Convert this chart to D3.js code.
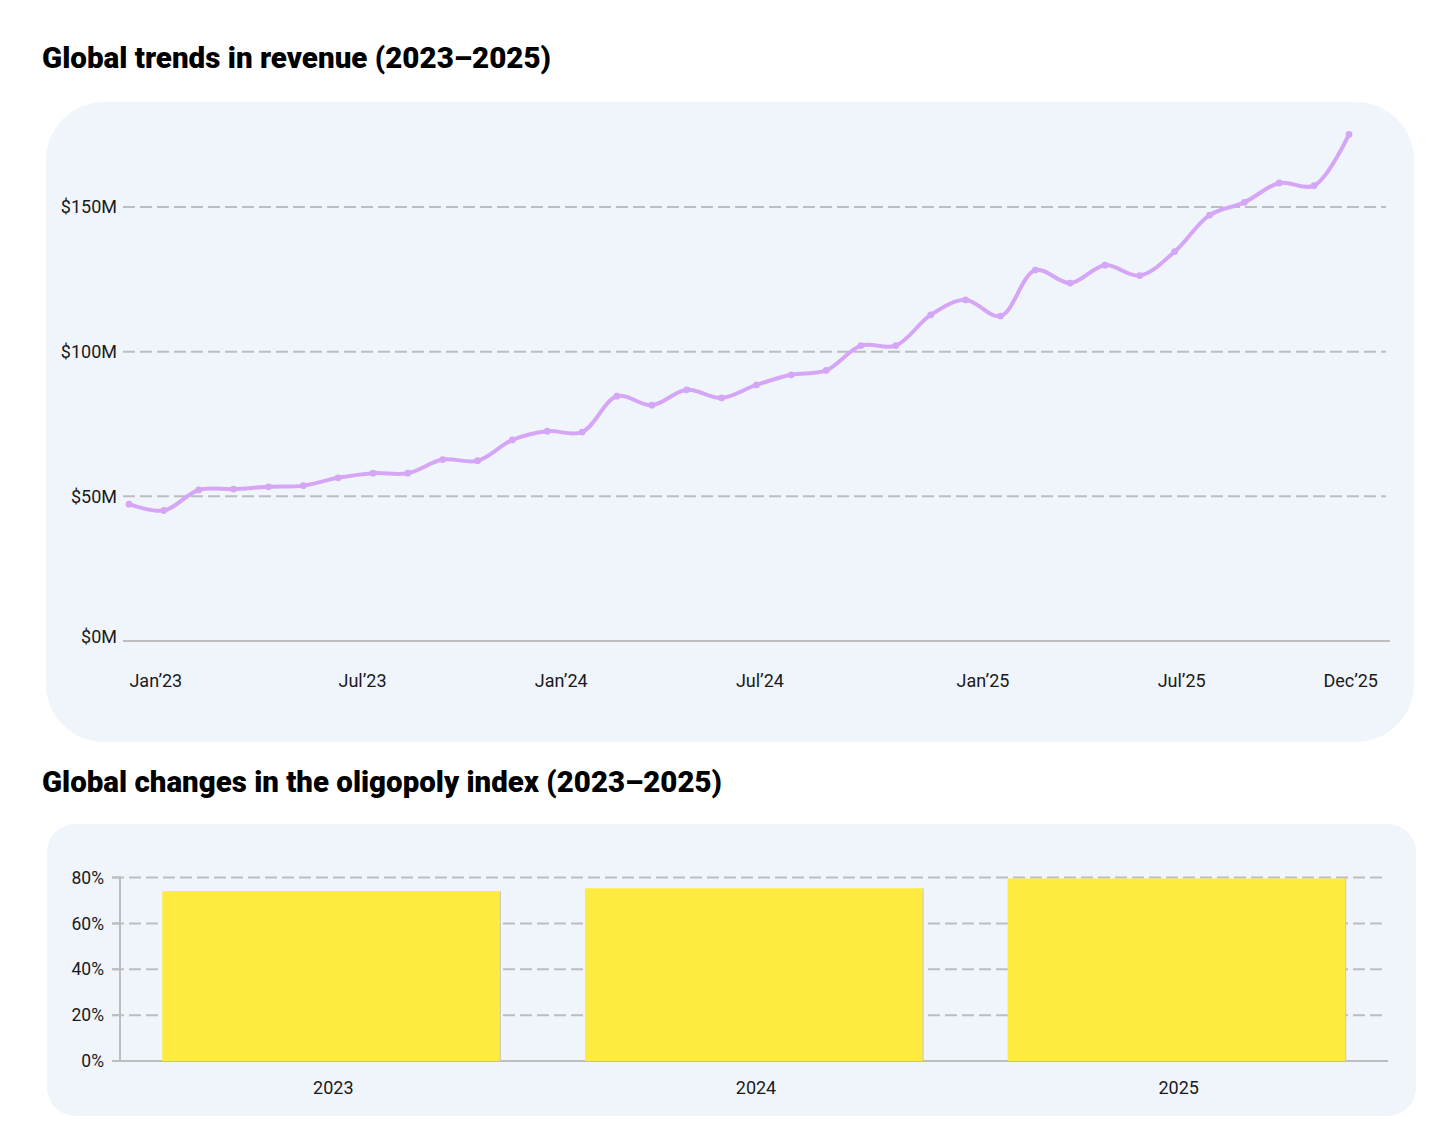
<!DOCTYPE html>
<html>
<head>
<meta charset="utf-8">
<script src="https://cdn.jsdelivr.net/npm/d3@7"></script>
<style>
  html, body { margin: 0; padding: 0; background: #fff; }
  svg { display: block; font-family: Roboto, "Liberation Sans", sans-serif; }
</style>
</head>
<body>
<svg id="chart" width="1446" height="1142"></svg>
<script>
// revenue, monthly, $M
const months = d3.range(36);
const revenue = [
  47.3, 45.1, 52.2, 52.5, 53.3, 53.7, 56.4, 58.0, 58.0, 62.7, 62.3, 69.5,
  72.5, 72.2, 84.6, 81.5, 86.8, 84.0, 88.5, 92.0, 93.5, 102.1, 102.1, 112.7,
  117.9, 112.3, 128.2, 123.7, 129.9, 126.3, 134.6, 147.2, 151.6, 158.3, 157.4, 175.1
];
const revenueTicks = [0, 50, 100, 150];
const monthLabels = ["Jan’23", "Jul’23", "Jan’24", "Jul’24", "Jan’25", "Jul’25", "Dec’25"];
// where the labels sit, in month-index units
const monthLabelAt = [0.77, 6.7, 12.4, 18.1, 24.5, 30.2, 35.05];

// oligopoly index
const years = ["2023", "2024", "2025"];
const oligopoly = [74.1, 75.3, 79.6];
const pctTicks = [0, 20, 40, 60, 80];

const PANEL = "#f0f5fc";
const GRID = "#bdbdc0";
const LINE = "#d6a6f6";
const BAR = "#ffea40";
const TEXT = "#1a1a1a";

const svg = d3.select("#chart");

const title = (y, text, len) =>
  svg.append("text")
    .attr("x", 42).attr("y", y)
    .attr("font-size", 29).attr("font-weight", 900)
    .attr("fill", "#000")
    .attr("textLength", len).attr("lengthAdjust", "spacingAndGlyphs")
    .text(text);

// ---- revenue line chart
title(68, "Global trends in revenue (2023–2025)", 509);

svg.append("rect")
  .attr("x", 46).attr("y", 102).attr("width", 1368).attr("height", 640)
  .attr("rx", 58).attr("fill", PANEL);

const x = d3.scaleLinear().domain([0, 35]).range([129, 1349]);
const y = d3.scaleLinear().domain([0, 150]).range([641, 207]);

const g1 = svg.append("g");

g1.selectAll("line.grid")
  .data(revenueTicks)
  .join("line")
  .attr("x1", 123).attr("x2", d => (d === 0 ? 1390 : 1386))
  .attr("y1", d => y(d)).attr("y2", d => y(d))
  .attr("stroke", GRID).attr("stroke-width", 2)
  .attr("stroke-dasharray", d => (d === 0 ? null : "12 5"));

g1.selectAll("text.ytick")
  .data(revenueTicks)
  .join("text")
  .attr("x", 117).attr("y", d => y(d) + (d === 0 ? -4 : 0))
  .attr("dy", "0.35em").attr("text-anchor", "end")
  .attr("font-size", 18).attr("fill", TEXT)
  .text(d => `$${d}M`);

g1.selectAll("text.xtick")
  .data(monthLabels)
  .join("text")
  .attr("x", (d, i) => x(monthLabelAt[i])).attr("y", 687)
  .attr("text-anchor", "middle")
  .attr("font-size", 18).attr("fill", TEXT)
  .text(d => d);

const line = d3.line()
  .x(d => x(d))
  .y(d => y(revenue[d]))
  .curve(d3.curveCatmullRom);

g1.append("path")
  .attr("d", line(months))
  .attr("fill", "none").attr("stroke", LINE)
  .attr("stroke-width", 4).attr("stroke-linejoin", "round");

g1.selectAll("circle")
  .data(months)
  .join("circle")
  .attr("cx", d => x(d)).attr("cy", d => y(revenue[d]))
  .attr("r", 3.4).attr("fill", LINE);

// ---- oligopoly bar chart
title(792, "Global changes in the oligopoly index (2023–2025)", 680);

svg.append("rect")
  .attr("x", 47).attr("y", 824).attr("width", 1369).attr("height", 292)
  .attr("rx", 28).attr("fill", PANEL);

const xb = d3.scaleBand().domain(years).range([120, 1388])
  .paddingInner(0.2).paddingOuter(0.1);
const yb = d3.scaleLinear().domain([0, 80]).range([1061, 877.5]);

const g2 = svg.append("g");

g2.selectAll("line.grid")
  .data(pctTicks)
  .join("line")
  .attr("x1", 112).attr("x2", d => (d === 0 ? 1388 : 1386))
  .attr("y1", d => yb(d)).attr("y2", d => yb(d))
  .attr("stroke", GRID).attr("stroke-width", 2)
  .attr("stroke-dasharray", d => (d === 0 ? null : "12 5"));

// solid tick stubs + vertical axis
g2.selectAll("line.tick")
  .data(pctTicks)
  .join("line")
  .attr("x1", 112).attr("x2", 121)
  .attr("y1", d => yb(d)).attr("y2", d => yb(d))
  .attr("stroke", GRID).attr("stroke-width", 2);

g2.append("line")
  .attr("x1", 120).attr("x2", 120)
  .attr("y1", yb(80)).attr("y2", yb(0))
  .attr("stroke", GRID).attr("stroke-width", 2);

g2.selectAll("text.ytick")
  .data(pctTicks)
  .join("text")
  .attr("x", 104).attr("y", d => yb(d))
  .attr("dy", "0.35em").attr("text-anchor", "end")
  .attr("font-size", 17.5).attr("fill", TEXT)
  .text(d => `${d}%`);

g2.selectAll("rect.bar")
  .data(years)
  .join("rect")
  .attr("x", d => xb(d)).attr("width", xb.bandwidth())
  .attr("y", (d, i) => yb(oligopoly[i]))
  .attr("height", (d, i) => yb(0) - yb(oligopoly[i]))
  .attr("fill", BAR);

g2.selectAll("line.edge")
  .data(years)
  .join("line")
  .attr("x1", d => xb(d) + xb.bandwidth()).attr("x2", d => xb(d) + xb.bandwidth())
  .attr("y1", (d, i) => yb(oligopoly[i])).attr("y2", yb(0))
  .attr("stroke", "#c8c8c0").attr("stroke-width", 1);

g2.selectAll("text.xtick")
  .data(years)
  .join("text")
  .attr("x", d => xb(d) + xb.bandwidth() / 2 + 2).attr("y", 1094)
  .attr("text-anchor", "middle")
  .attr("font-size", 18).attr("fill", TEXT)
  .text(d => d);
</script>
</body>
</html>
